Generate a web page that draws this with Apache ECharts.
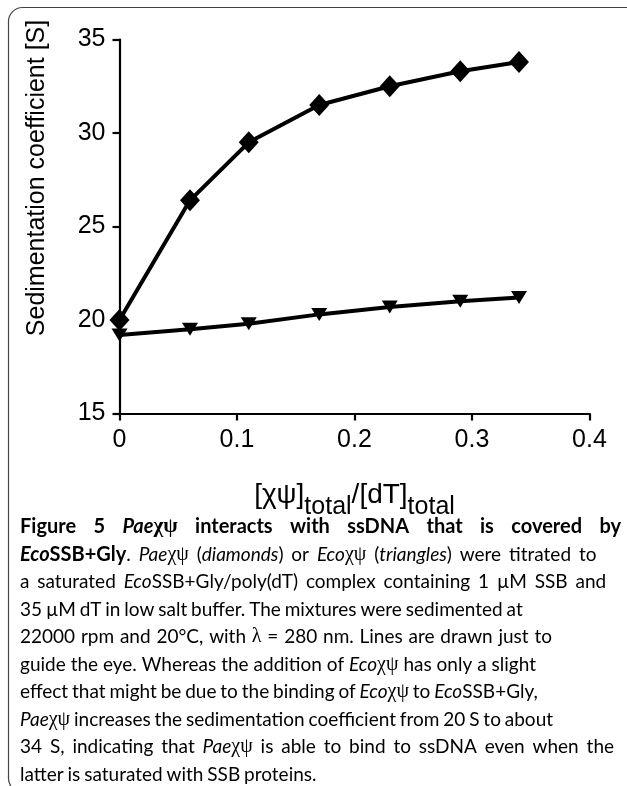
<!DOCTYPE html>
<html><head><meta charset="utf-8">
<script src="https://cdn.jsdelivr.net/npm/echarts@6/dist/echarts.min.js"></script>
<style>html,body{margin:0;padding:0;background:#fff}#c{width:627px;height:786px}</style>
</head><body><div id="c"></div>
<script>
// ---- data ----
const xValues = [0, 0.06, 0.11, 0.17, 0.23, 0.29, 0.34];
const paeValues = [20.0, 26.4, 29.5, 31.5, 32.5, 33.3, 33.8];   // diamonds
const ecoValues = [19.2, 19.5, 19.8, 20.3, 20.7, 21.0, 21.2];   // triangles
const xTicks = [0, 0.1, 0.2, 0.3, 0.4];
const yTicks = [15, 20, 25, 30, 35];
const yAxisTitle = 'Sedimentation coefficient [S]';
const xAxisTitle = '{m|[χψ]}{s|total}{m|/[dT]}{s|total}';

// caption: [style, text]; n normal, i italic, b bold, bi bold italic, g greek, bg bold greek
const captionLines = [
  [['b','Figure 5 '],['bi','Pae'],['bg','χψ'],['b',' interacts with ssDNA that is covered by']],
  [['bi','Eco'],['b','SSB+Gly'],['n','. '],['i','Pae'],['g','χψ'],['n',' ('],['i','diamonds'],['n',') or '],['i','Eco'],['g','χψ'],['n',' ('],['i','triangles'],['n',') were titrated to']],
  [['n','a saturated '],['i','Eco'],['n','SSB+Gly/poly(dT) complex containing 1 µM SSB and']],
  [['n','35 µM dT in low salt buffer. The mixtures were sedimented at']],
  [['n','22000 rpm and 20°C, with '],['g','λ'],['n',' = 280 nm. Lines are drawn just to']],
  [['n','guide the eye. Whereas the addition of '],['i','Eco'],['g','χψ'],['n',' has only a slight']],
  [['n','effect that might be due to the binding of '],['i','Eco'],['g','χψ'],['n',' to '],['i','Eco'],['n','SSB+Gly,']],
  [['i','Pae'],['g','χψ'],['n',' increases the sedimentation coefficient from 20 S to about']],
  [['n','34 S, indicating that '],['i','Pae'],['g','χψ'],['n',' is able to bind to ssDNA even when the']],
  [['n','latter is saturated with SSB proteins.']]
];

// ---- layout/style ----
const CAP_SIZE = 19;
const CAP_LEFT = 20;
const CAP_RIGHTS = [621, 619, 612, 486, 552, 536, 532, 548, 618, 292]; // approximate right edge of each line
const CAP_TOP = 527, CAP_STEP = 27.5;
const capStyles = {
  n:  {fontFamily:'Lato', fontSize:CAP_SIZE, fontWeight:'normal', fontStyle:'normal', color:'#1e1e1e'},
  i:  {fontFamily:'Lato', fontSize:CAP_SIZE, fontWeight:'normal', fontStyle:'italic', color:'#1e1e1e'},
  b:  {fontFamily:'Lato', fontSize:CAP_SIZE + 1, fontWeight:'bold', fontStyle:'normal', color:'#111'},
  bi: {fontFamily:'Lato', fontSize:CAP_SIZE + 1, fontWeight:'bold', fontStyle:'italic', color:'#111'},
  g:  {fontFamily:'Liberation Serif', fontSize:CAP_SIZE + 1, fontWeight:'normal', fontStyle:'normal', color:'#1e1e1e'},
  bg: {fontFamily:'Liberation Serif', fontSize:CAP_SIZE + 2, fontWeight:'bold', fontStyle:'normal', color:'#111'}
};
const ctx = document.createElement('canvas').getContext('2d');
function measure(style, text) {
  const s = capStyles[style];
  ctx.font = s.fontStyle + ' ' + s.fontWeight + ' ' + s.fontSize + 'px "' + s.fontFamily + '"';
  return ctx.measureText(text).width;
}
function richStr(segs) { return segs.map(([s, t]) => '{' + s + '|' + t + '}').join(''); }

const graphics = [];
graphics.push({type:'rect', shape:{x:8.5, y:7.5, width:680, height:785, r:14},
  style:{fill:'none', stroke:'#444', lineWidth:1.2}, silent:true});
graphics.push({type:'text', x:37, y:178, rotation:Math.PI/2,
  style:{text:yAxisTitle, font:'25px "Liberation Sans"', fill:'#000', align:'center', verticalAlign:'middle'}});

const spaceW = measure('n', ' ');
captionLines.forEach((segs, li) => {
  const y = CAP_TOP + li * CAP_STEP;
  const right = CAP_RIGHTS[li];
  const words = [[]];
  segs.forEach(([s, t]) => {
    t.split(' ').forEach((p, k) => {
      if (k > 0) words.push([]);
      if (p.length) words[words.length - 1].push([s, p]);
    });
  });
  const ws = words.filter(w => w.length);
  const widths = ws.map(w => w.reduce((a, [s, t]) => a + measure(s, t), 0));
  const total = widths.reduce((a, b) => a + b, 0);
  let gap = (right - CAP_LEFT - total) / Math.max(1, ws.length - 1);
  if (li > 0) gap = Math.min(spaceW + 3, Math.max(spaceW - 1, gap));
  let x = CAP_LEFT;
  ws.forEach((w, k) => {
    graphics.push({type:'text', x:x, y:y, style:{text:richStr(w), rich:capStyles, align:'left', verticalAlign:'middle'}});
    x += widths[k] + gap;
  });
});

const chart = echarts.init(document.getElementById('c'), null, {renderer:'canvas'});
const axisFont = {fontFamily:'Liberation Sans', fontSize:25, color:'#000'};
chart.setOption({
  backgroundColor:'#fff',
  animation:false,
  grid:{left:119.5, right:37.5, top:39.5, bottom:372.5, containLabel:false},
  xAxis:{type:'value', min:xTicks[0], max:xTicks[xTicks.length-1], interval:0.1,
    axisLine:{lineStyle:{color:'#000', width:2.2}},
    axisTick:{length:7, lineStyle:{color:'#000', width:2.2}},
    splitLine:{show:false},
    axisLabel:Object.assign({margin:14}, axisFont),
    name:xAxisTitle, nameLocation:'middle', nameGap:68,
    nameTextStyle:{rich:{
      m:{fontFamily:'Liberation Sans', fontSize:28, color:'#000', lineHeight:32, verticalAlign:'top'},
      s:{fontFamily:'Liberation Sans', fontSize:25, color:'#000', lineHeight:26, verticalAlign:'top', padding:[13,0,0,0]}
    }}
  },
  yAxis:{type:'value', min:yTicks[0], max:yTicks[yTicks.length-1], interval:5,
    axisLine:{show:true, lineStyle:{color:'#000', width:2.2}},
    axisTick:{show:true, length:7, lineStyle:{color:'#000', width:2.2}},
    splitLine:{show:false},
    axisLabel:Object.assign({margin:14}, axisFont)
  },
  series:[
    {type:'line', data:xValues.map((x,i)=>[x, ecoValues[i]]), symbol:'triangle', symbolRotate:180,
     symbolSize:[16,13], lineStyle:{color:'#000', width:4}, itemStyle:{color:'#000'}, z:2},
    {type:'line', data:xValues.map((x,i)=>[x, paeValues[i]]), symbol:'diamond',
     symbolSize:[20,22], lineStyle:{color:'#000', width:4}, itemStyle:{color:'#000'}, z:3}
  ],
  graphic:graphics
});
</script></body></html>
